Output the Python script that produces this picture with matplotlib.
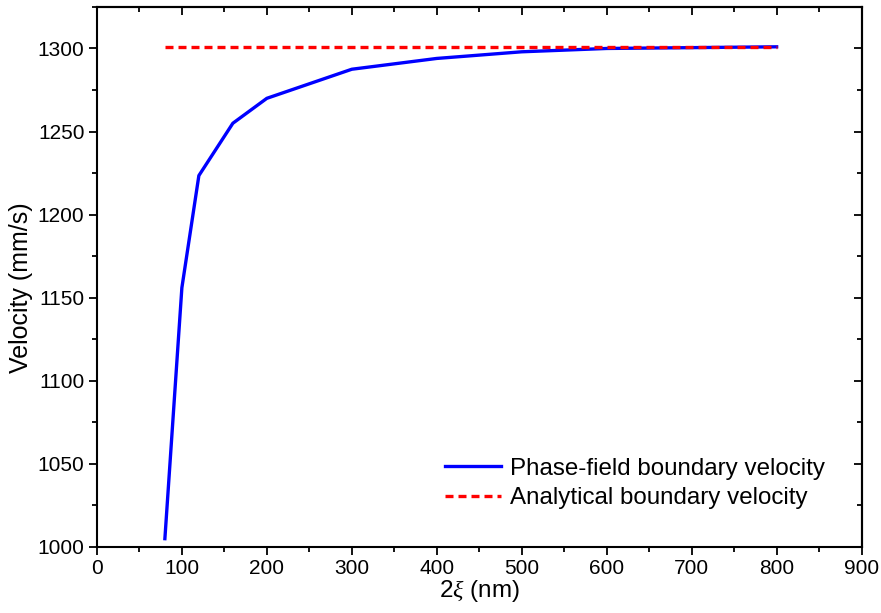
import matplotlib
matplotlib.use("Agg")
import matplotlib.pyplot as plt
from matplotlib.ticker import MultipleLocator

plt.rcParams["font.family"] = ["Liberation Sans", "DejaVu Sans"]
plt.rcParams["mathtext.fontset"] = "custom"
plt.rcParams["mathtext.it"] = "Liberation Serif:italic"
plt.rcParams["mathtext.rm"] = "Liberation Sans"

# phase-field results vs analytical solution
width_nm = [80, 100, 120, 160, 200, 300, 400, 500, 600, 700, 800]
phase_field_v = [1005, 1156, 1223.5, 1255, 1270, 1287.5, 1294, 1298, 1300, 1300.5, 1301]
analytical_x = [80, 800]
analytical_v = [1301, 1301]

fig = plt.figure(figsize=(8.81, 6.13), dpi=100)
ax = fig.add_axes([0.110, 0.1077, 0.868, 0.881])

ax.plot(width_nm, phase_field_v, color="#0000ff", lw=2.4, label="Phase-field boundary velocity")
ax.plot(analytical_x, analytical_v, color="#ff0000", lw=2.4, ls=(0, (2.4, 1.5)),
        label="Analytical boundary velocity")

ax.set_xlim(0, 900)
ax.set_ylim(1000, 1325)

def set_ticks(axis, major, minor):
    axis.set_major_locator(MultipleLocator(major))
    axis.set_minor_locator(MultipleLocator(minor))

set_ticks(ax.xaxis, 100, 50)
set_ticks(ax.yaxis, 50, 25)
ax.tick_params(which="both", direction="out", labelsize=15, width=1.3, pad=3)
ax.tick_params(which="major", length=6)
ax.tick_params(which="minor", length=3.5)

# top and right: inward ticks without labels
top = ax.secondary_xaxis("top")
right = ax.secondary_yaxis("right")
set_ticks(top.xaxis, 100, 50)
set_ticks(right.yaxis, 50, 25)
for sec in (top, right):
    sec.tick_params(which="both", direction="in", width=1.3,
                    labeltop=False, labelright=False, labelbottom=False, labelleft=False)
    sec.tick_params(which="major", length=6)
    sec.tick_params(which="minor", length=3.5)
    for s in sec.spines.values():
        s.set_linewidth(1.5)

for s in ax.spines.values():
    s.set_linewidth(1.5)

ax.set_ylabel("Velocity (mm/s)", fontsize=18)
ax.yaxis.set_label_coords(-0.084, 0.48)
ax.set_xlabel(r"2$\xi$ (nm)", fontsize=17.5, labelpad=0)

ax.legend(loc="lower right", frameon=False, fontsize=17.4, handlelength=2.3,
          handletextpad=0.4, labelspacing=0.32, borderpad=0.3,
          bbox_to_anchor=(0.978, 0.034))

fig.savefig("out.png", dpi=100)
